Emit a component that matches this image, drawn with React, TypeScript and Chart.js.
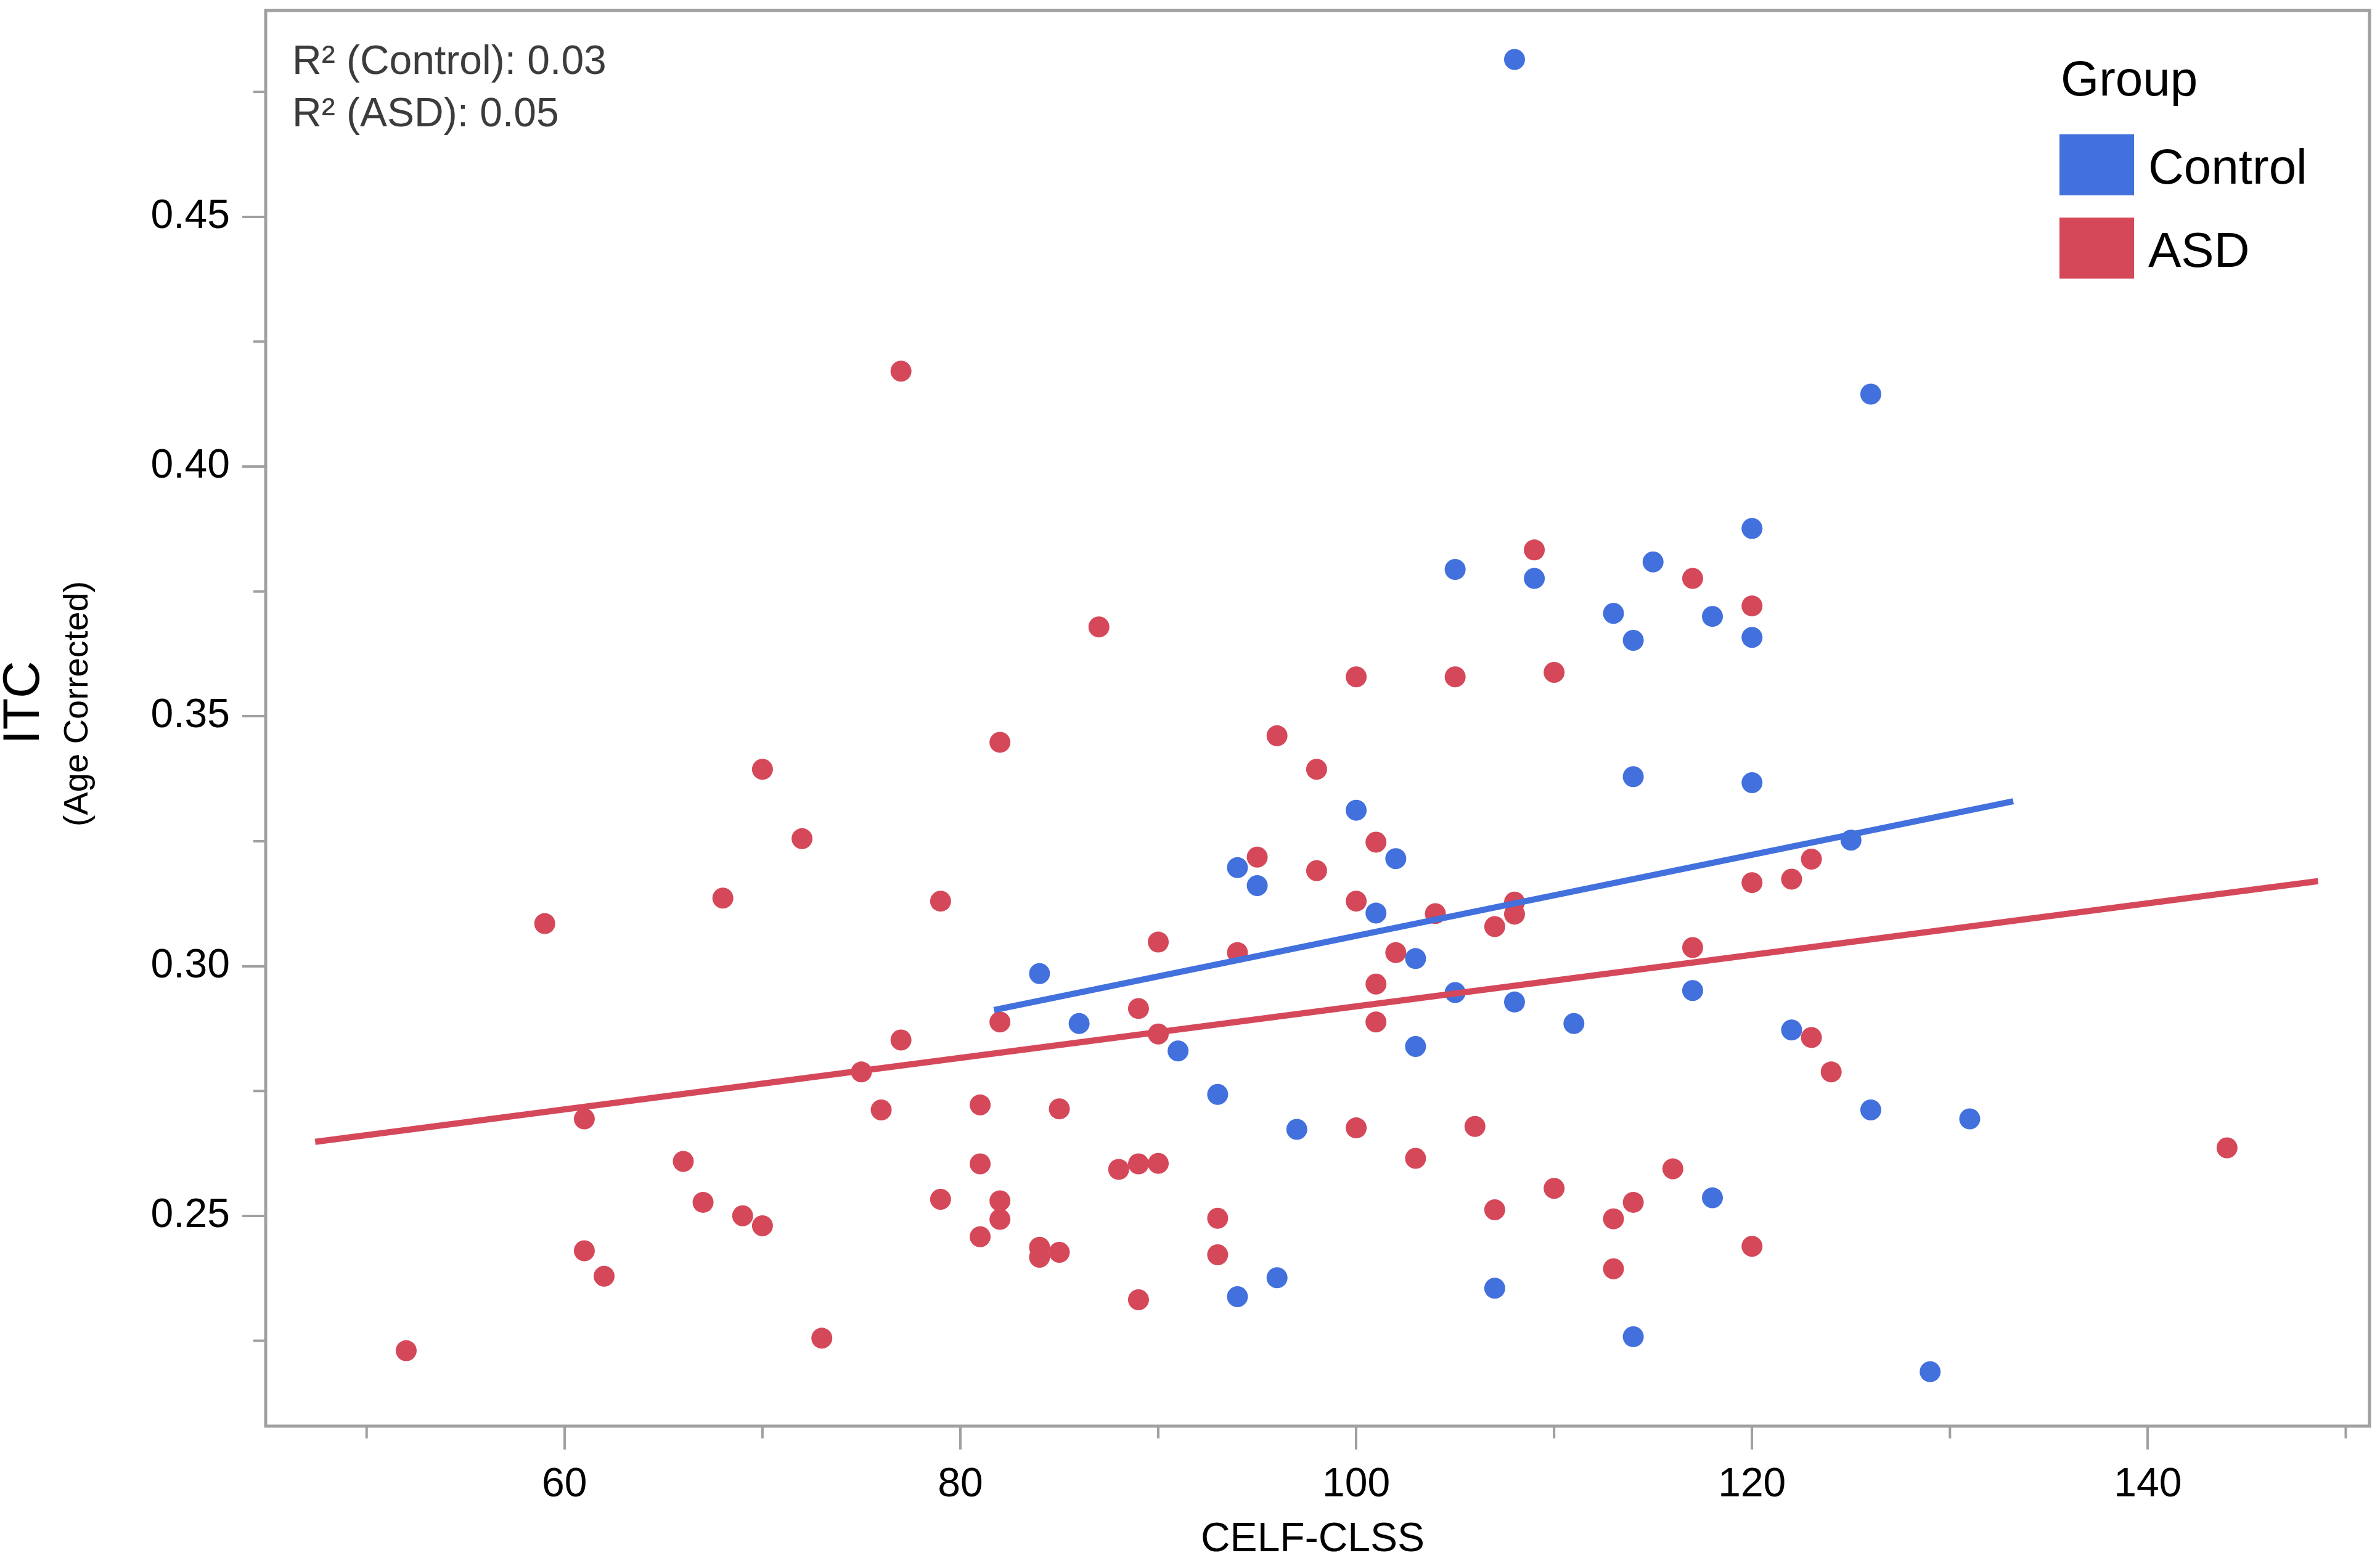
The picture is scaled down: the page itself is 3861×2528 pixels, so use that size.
import { useEffect, useRef } from "react"
import { Chart, registerables } from "chart.js"

Chart.register(...registerables)

// Control group
const controlX = [108, 126, 120, 105, 109, 115, 113, 118, 114, 120, 114, 120, 100, 102, 125, 94, 95, 101, 103, 84, 105, 108, 117, 86, 111, 122, 91, 103, 93, 126, 131, 97, 118, 96, 94, 107, 114, 129]
const controlY = [0.4815, 0.4145, 0.3876, 0.3794, 0.3776, 0.3809, 0.3706, 0.37, 0.3652, 0.3658, 0.3379, 0.3367, 0.3312, 0.3215, 0.3252, 0.3197, 0.3161, 0.3106, 0.3015, 0.2985, 0.2947, 0.2928, 0.2951, 0.2885, 0.2885, 0.2872, 0.283, 0.2839, 0.2743, 0.2712, 0.2694, 0.2673, 0.2536, 0.2376, 0.2338, 0.2355, 0.2258, 0.2188]

// ASD group
const asdX = [77, 109, 117, 120, 87, 100, 105, 110, 96, 82, 70, 98, 72, 101, 95, 98, 68, 79, 100, 59, 104, 107, 108, 108, 120, 122, 123, 90, 102, 94, 117, 101, 89, 82, 101, 77, 90, 123, 75, 124, 81, 76, 85, 61, 100, 106, 144, 66, 81, 103, 88, 89, 90, 116, 110, 79, 67, 82, 114, 107, 69, 82, 93, 113, 70, 81, 61, 120, 84, 85, 84, 93, 62, 113, 89, 73, 52]
const asdY = [0.4191, 0.3833, 0.3776, 0.3721, 0.3679, 0.3579, 0.3579, 0.3588, 0.3461, 0.3448, 0.3394, 0.3394, 0.3255, 0.3248, 0.3218, 0.3191, 0.3136, 0.313, 0.313, 0.3085, 0.3105, 0.3079, 0.3128, 0.3104, 0.3167, 0.3174, 0.3214, 0.3048, 0.3027, 0.3027, 0.3037, 0.2964, 0.2915, 0.2888, 0.2888, 0.2852, 0.2864, 0.2857, 0.2788, 0.2788, 0.2722, 0.2712, 0.2714, 0.2694, 0.2676, 0.2679, 0.2636, 0.2609, 0.2604, 0.2615, 0.2593, 0.2604, 0.2605, 0.2594, 0.2555, 0.2533, 0.2527, 0.253, 0.2527, 0.2512, 0.25, 0.2493, 0.2495, 0.2494, 0.248, 0.2458, 0.243, 0.2439, 0.2437, 0.2427, 0.2417, 0.2422, 0.2379, 0.2394, 0.2332, 0.2255, 0.223]

// fit lines (end points)
const controlFitX = [81.7, 133.2]
const controlFitY = [0.2912, 0.333]
const asdFitX = [47.4, 148.6]
const asdFitY = [0.2648, 0.317]

const groups = ["Control", "ASD"]
const rSquared = [0.03, 0.05]

const xTicks = [60, 80, 100, 120, 140]
const xMinorTicks = [50, 70, 90, 110, 130, 150]
const yTicks = [0.25, 0.3, 0.35, 0.4, 0.45]
const yMinorTicks = [0.225, 0.275, 0.325, 0.375, 0.425, 0.475]

const BLUE = "#4270dd"
const RED = "#d5485a"
const GRAY = "#a0a0a0"
const FONT = '"Liberation Sans", Arial, Helvetica, sans-serif'

const toPoints = (xs: number[], ys: number[]) => xs.map((x, i) => ({ x, y: ys[i] }))

const decorations = {
  id: "decorations",
  afterDraw(chart: Chart) {
    const { ctx, chartArea } = chart
    const { left, right, top, bottom } = chartArea
    const xs = chart.scales.x
    const ys = chart.scales.y
    ctx.save()

    // frame
    ctx.strokeStyle = GRAY
    ctx.lineWidth = 5
    ctx.strokeRect(left, top, right - left, bottom - top)

    // minor ticks
    ctx.lineWidth = 4
    ctx.beginPath()
    xMinorTicks.forEach((v) => {
      const px = xs.getPixelForValue(v)
      ctx.moveTo(px, bottom)
      ctx.lineTo(px, bottom + 20)
    })
    yMinorTicks.forEach((v) => {
      const py = ys.getPixelForValue(v)
      ctx.moveTo(left, py)
      ctx.lineTo(left - 20, py)
    })
    ctx.stroke()

    // R² text
    ctx.fillStyle = "#3c3c3c"
    ctx.font = `66px ${FONT}`
    ctx.textAlign = "left"
    ctx.textBaseline = "alphabetic"
    groups.forEach((g, i) => {
      ctx.fillText(`R² (${g}): ${rSquared[i].toFixed(2)}`, left + 43, top + 103 + i * 85)
    })

    // legend
    const lx = right - 503
    ctx.fillStyle = "#000"
    ctx.font = `80px ${FONT}`
    ctx.fillText("Group", lx + 2, top + 138)
    const colors = [BLUE, RED]
    groups.forEach((g, i) => {
      const by = top + 201 + i * 135
      ctx.fillStyle = colors[i]
      ctx.fillRect(lx, by, 121, 99)
      ctx.fillStyle = "#000"
      ctx.fillText(g, lx + 144, by + 80)
    })

    // axis titles
    ctx.fillStyle = "#000"
    ctx.textAlign = "center"
    ctx.font = `66px ${FONT}`
    ctx.fillText("CELF-CLSS", (left + right) / 2 - 8, 2517)

    ctx.save()
    ctx.translate(40, 1140)
    ctx.rotate(-Math.PI / 2)
    ctx.textBaseline = "middle"
    ctx.font = `84px ${FONT}`
    ctx.fillText("ITC", 0, 0)
    ctx.restore()

    ctx.save()
    ctx.translate(127, 1142)
    ctx.rotate(-Math.PI / 2)
    ctx.textBaseline = "middle"
    ctx.font = `56px ${FONT}`
    ctx.fillText("(Age Corrected)", 0, 0)
    ctx.restore()

    ctx.restore()
  },
}

export default function App() {
  const chartRef = useRef<HTMLCanvasElement>(null)
  const chartInstance = useRef<Chart | null>(null)

  useEffect(() => {
    document.body.style.margin = "0"
    if (!chartRef.current) return
    if (chartInstance.current) chartInstance.current.destroy()

    const ctx = chartRef.current.getContext("2d")
    if (!ctx) return

    chartInstance.current = new Chart(ctx, {
      type: "scatter",
      data: {
        datasets: [
          {
            label: "Control fit",
            data: toPoints(controlFitX, controlFitY),
            showLine: true,
            borderColor: BLUE,
            borderWidth: 10,
            pointRadius: 0,
            pointHoverRadius: 0,
          },
          {
            label: "ASD fit",
            data: toPoints(asdFitX, asdFitY),
            showLine: true,
            borderColor: RED,
            borderWidth: 10,
            pointRadius: 0,
            pointHoverRadius: 0,
          },
          {
            label: groups[0],
            data: toPoints(controlX, controlY),
            backgroundColor: BLUE,
            borderWidth: 0,
            pointRadius: 17,
            pointHoverRadius: 17,
          },
          {
            label: groups[1],
            data: toPoints(asdX, asdY),
            backgroundColor: RED,
            borderWidth: 0,
            pointRadius: 17,
            pointHoverRadius: 17,
          },
        ],
      },
      options: {
        animation: false,
        responsive: false,
        devicePixelRatio: 1,
        layout: { padding: { top: 10, right: 5, left: 0, bottom: 0 } },
        plugins: {
          legend: { display: false },
          tooltip: { enabled: false },
        },
        scales: {
          x: {
            type: "linear",
            min: 44.9,
            max: 151.2,
            afterBuildTicks: (s: any) => {
              s.ticks = xTicks.map((v) => ({ value: v }))
            },
            afterFit: (s: any) => {
              s.height = 214
              s.paddingLeft = 0
              s.paddingRight = 0
            },
            border: { display: false },
            grid: { drawOnChartArea: false, drawTicks: true, tickLength: 38, color: GRAY, lineWidth: 4 },
            ticks: {
              color: "#000",
              padding: 18,
              maxRotation: 0,
              autoSkip: false,
              font: { family: FONT, size: 66 },
              callback: (v: any) => String(v),
            },
          },
          y: {
            type: "linear",
            min: 0.2079,
            max: 0.4913,
            afterBuildTicks: (s: any) => {
              s.ticks = yTicks.map((v) => ({ value: v }))
            },
            afterFit: (s: any) => {
              s.width = 431
              s.paddingTop = 0
              s.paddingBottom = 0
            },
            border: { display: false },
            grid: { drawOnChartArea: false, drawTicks: true, tickLength: 38, color: GRAY, lineWidth: 4 },
            ticks: {
              color: "#000",
              padding: 20,
              autoSkip: false,
              font: { family: FONT, size: 66 },
              callback: (v: any) => Number(v).toFixed(2),
            },
          },
        },
      },
      plugins: [decorations],
    })

    return () => {
      if (chartInstance.current) {
        chartInstance.current.destroy()
        chartInstance.current = null
      }
    }
  }, [])

  return (
    <div style={{ position: "absolute", left: 0, top: 0, width: 3861, height: 2528, background: "#fff" }}>
      <canvas ref={chartRef} width={3861} height={2528} style={{ display: "block" }} />
    </div>
  )
}
